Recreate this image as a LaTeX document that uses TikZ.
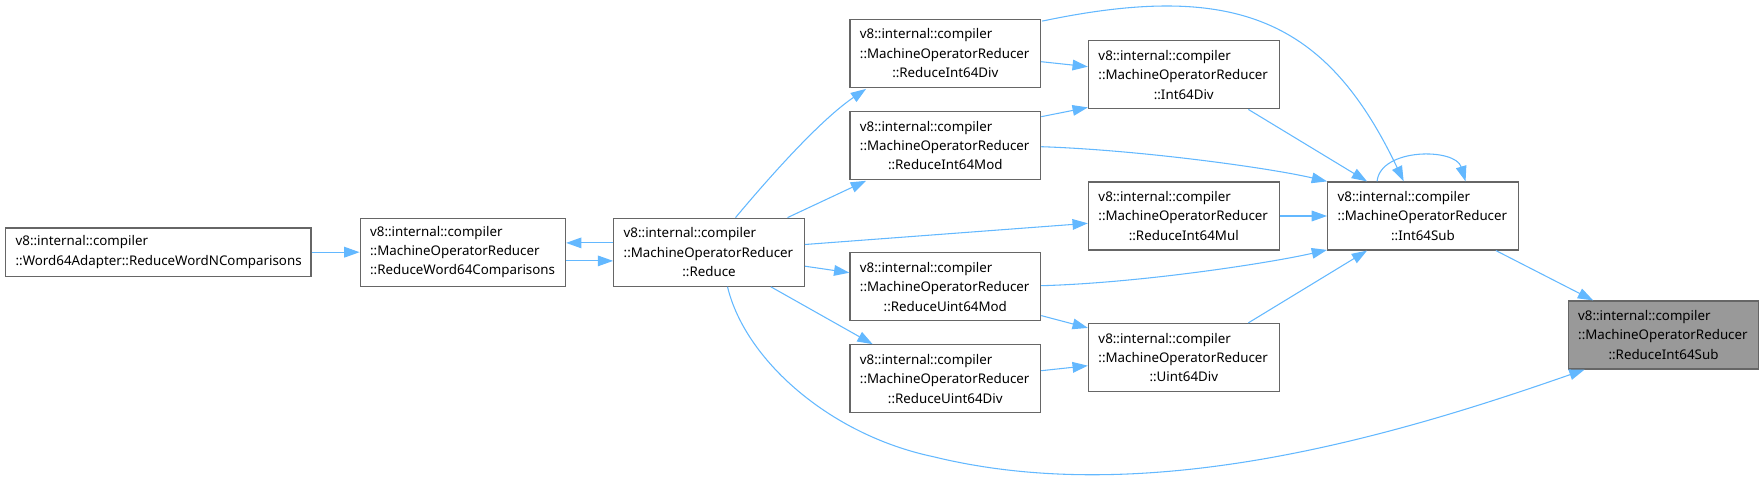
\documentclass[tikz,border=0pt]{standalone}
\usepackage{fontspec}
\setmainfont{Noto Sans}
\usepackage{xcolor}
\usetikzlibrary{positioning,calc,arrows.meta}
\definecolor{calledge}{HTML}{63B8FF}
\definecolor{boxline}{HTML}{666666}
\definecolor{boxhit}{HTML}{999999}
\newcommand{\ctrline}[1]{\makebox[\linewidth]{#1}}
\tikzset{
  fn/.style={draw=boxline, fill=white, line width=0.9pt, align=left,
    text width=128pt, inner xsep=7.5pt, inner ysep=0pt, minimum height=51pt,
    font=\fontsize{10}{14.5}\selectfont},
  callarr/.style={draw=calledge, line width=0.8pt, -{Triangle[length=11.5pt,width=8pt]}},
}

\begin{document}
\begin{tikzpicture}[x=0.75pt, y=-0.75pt,
  hit/.style={fn, fill=boxhit}]
\useasboundingbox (0,0) rectangle (1761,481);

% ---- left chain ----
\node[fn, text width=214pt, minimum height=36.4pt] (w64) at (158.3,252.2)
  {v8::internal::compiler\\::Word64Adapter::ReduceWordNComparisons};
\node[fn, text width=139pt, right=36pt of w64] (rw)
  {v8::internal::compiler\\::MachineOperatorReducer\\::ReduceWord64Comparisons};
\node[fn, right=35.25pt of rw] (red)
  {v8::internal::compiler\\::MachineOperatorReducer\\\ctrline{::Reduce}};

% ---- middle columns ----
\node[fn] (rid) at (945.3,53.3)
  {v8::internal::compiler\\::MachineOperatorReducer\\\ctrline{::ReduceInt64Div}};
\node[fn] (rim) at (945.3,145.5)
  {v8::internal::compiler\\::MachineOperatorReducer\\\ctrline{::ReduceInt64Mod}};
\node[fn] (rum) at (945.3,286.7)
  {v8::internal::compiler\\::MachineOperatorReducer\\\ctrline{::ReduceUint64Mod}};
\node[fn] (rud) at (945.3,378.8)
  {v8::internal::compiler\\::MachineOperatorReducer\\\ctrline{::ReduceUint64Div}};
\node[fn] (idv) at (1183.8,74.8)
  {v8::internal::compiler\\::MachineOperatorReducer\\\ctrline{::Int64Div}};
\node[fn] (rml) at (1183.8,216)
  {v8::internal::compiler\\::MachineOperatorReducer\\\ctrline{::ReduceInt64Mul}};
\node[fn] (udv) at (1183.8,357.5)
  {v8::internal::compiler\\::MachineOperatorReducer\\\ctrline{::Uint64Div}};

% ---- right side ----
\node[fn, right=35.5pt of rml] (sub)
  {v8::internal::compiler\\::MachineOperatorReducer\\\ctrline{::Int64Sub}};
\node[hit] (ris) at (1663.5,335)
  {v8::internal::compiler\\::MachineOperatorReducer\\\ctrline{::ReduceInt64Sub}};

% ---- edges into the left chain ----
\draw[callarr] (w64.east) -- (rw.west);
\draw[callarr] ($(red.west)+(0,-9.3)$) -- ($(rw.east)+(0,-9.3)$);
\draw[callarr] ($(rw.east)+(0,8.7)$) -- ($(red.west)+(0,8.7)$);

% ---- edges out of Reduce ----
\draw[callarr] ($(red.north)+(26.5,0)$) .. controls +(32,-38.3) and +(-46.7,31.7) .. ($(rid.south west)+(16.7,1)$);
\draw[callarr] ($(red.north)+(78.5,0)$) -- ($(rim.south west)+(16.7,0.7)$);
\draw[callarr] ($(red.east)+(0,-7.7)$) -- ($(rml.west)+(0,7.3)$);
\draw[callarr] ($(red.east)+(0,14)$) -- ($(rum.west)+(0,-14)$);
\draw[callarr] ($(red.south)+(61.8,0)$) -- ($(rud.north west)+(23.3,0)$);
\draw[callarr] ($(red.south)+(18.5,0)$) .. controls (745,360) and (830,435) .. (933.3,456.7)
  .. controls (1150,510) and (1400,434) .. ($(ris.south west)+(17,0)$);

% ---- second column -> third column ----
\draw[callarr] ($(rid.east)+(0,8.4)$) -- ($(idv.west)+(0,-8.1)$);
\draw[callarr] ($(rim.east)+(0,-28.8)$) -- ($(idv.south west)+(0,-2)$);
\draw[callarr] ($(rum.south east)+(0,-5.7)$) -- ($(udv.north west)+(0,5)$);
\draw[callarr] ($(rud.east)+(0,-8.1)$) -- ($(udv.west)+(0,8.2)$);

% ---- everything into Int64Sub ----
\draw[callarr] ($(rid.north east)+(1,2.4)$) .. controls (1236.6,-19.8) and (1327,20.2) .. ($(sub.north west)+(76.6,0)$);
\draw[callarr] ($(rim.east)+(0,1.2)$) .. controls (1140,150) and (1270,168) .. (sub.north west);
\draw[callarr] ($(idv.south)+(64.5,0)$) -- ($(sub.north west)+(40,0)$);
\draw[callarr] (rml.east) -- (sub.west);
\draw[callarr] ($(rum.east)+(0,-1)$) .. controls (1140,283) and (1270,263) .. ($(sub.south west)+(0,-0.7)$);
\draw[callarr] ($(udv.north)+(64.5,0)$) -- ($(sub.south west)+(40,0)$);
\draw[callarr] ($(sub.north west)+(50,0)$) .. controls +(3.3,-33.7) and +(-10.2,-33.7) .. ($(sub.north west)+(138.5,0)$);

% ---- Int64Sub -> ReduceInt64Sub ----
\draw[callarr] ($(sub.south east)+(-23,0)$) -- ($(ris.north west)+(25.6,0)$);

\end{tikzpicture}
\end{document}
